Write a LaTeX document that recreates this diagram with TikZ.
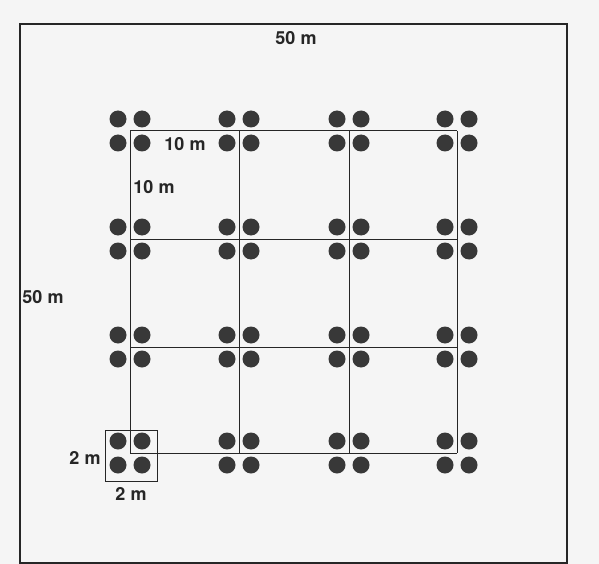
\documentclass[tikz,border=0pt]{standalone}
\usepackage{fontspec}
\setmainfont{TeX Gyre Heros}
\newcommand{\mgap}{\hspace{0.28em}}
\begin{document}
\begin{tikzpicture}[x=1pt,y=-1pt,
  dot/.style={circle,fill=black!78,inner sep=0pt,minimum size=17pt},
  gridline/.style={draw=black!85,line width=1pt},
  frame/.style={draw=black!85,line width=1.2pt},
  lbl/.style={font=\fontsize{18}{20}\selectfont\bfseries,inner sep=0pt,text=black!85}]
\fill[white!96!black] (0,0) rectangle (599,564);
\useasboundingbox (0,0) rectangle (599,564);
% outer plot
\coordinate (o1) at (20,24);
\coordinate (o2) at (567,563);
\draw[frame] (o1) rectangle (o2);
% grid coordinates
\foreach \i/\x in {0/130,1/239,2/349,3/457}{
  \foreach \j/\y in {0/131,1/239,2/347,3/453}{
    \coordinate (g\i\j) at (\x,\y);
    \node[dot] (d\i\j a) at (\x-12,\y-12) {};
    \node[dot] (d\i\j b) at (\x+12,\y-12) {};
    \node[dot] (d\i\j c) at (\x-12,\y+12) {};
    \node[dot] (d\i\j d) at (\x+12,\y+12) {};
  }
}
\foreach \k in {0,1,2,3}{
  \draw[gridline] (g\k0) -- (g\k3);
  \draw[gridline] (g0\k) -- (g3\k);
}
% small 2m square
\coordinate (s1) at (105,430);
\coordinate (s2) at (157,481);
\draw[gridline] (s1) rectangle (s2);
% labels
\node[lbl] (t50) at (296,38) {50\mgap m};
\node[lbl] (l50) at (43,297) {50\mgap m};
\node[lbl] (h10) at (185,144) {10\mgap m};
\node[lbl] (v10) at (154,187) {10\mgap m};
\node[lbl] (l2) at (85,458) {2\mgap m};
\node[lbl] (b2) at (131,494) {2\mgap m};
\end{tikzpicture}
\end{document}
